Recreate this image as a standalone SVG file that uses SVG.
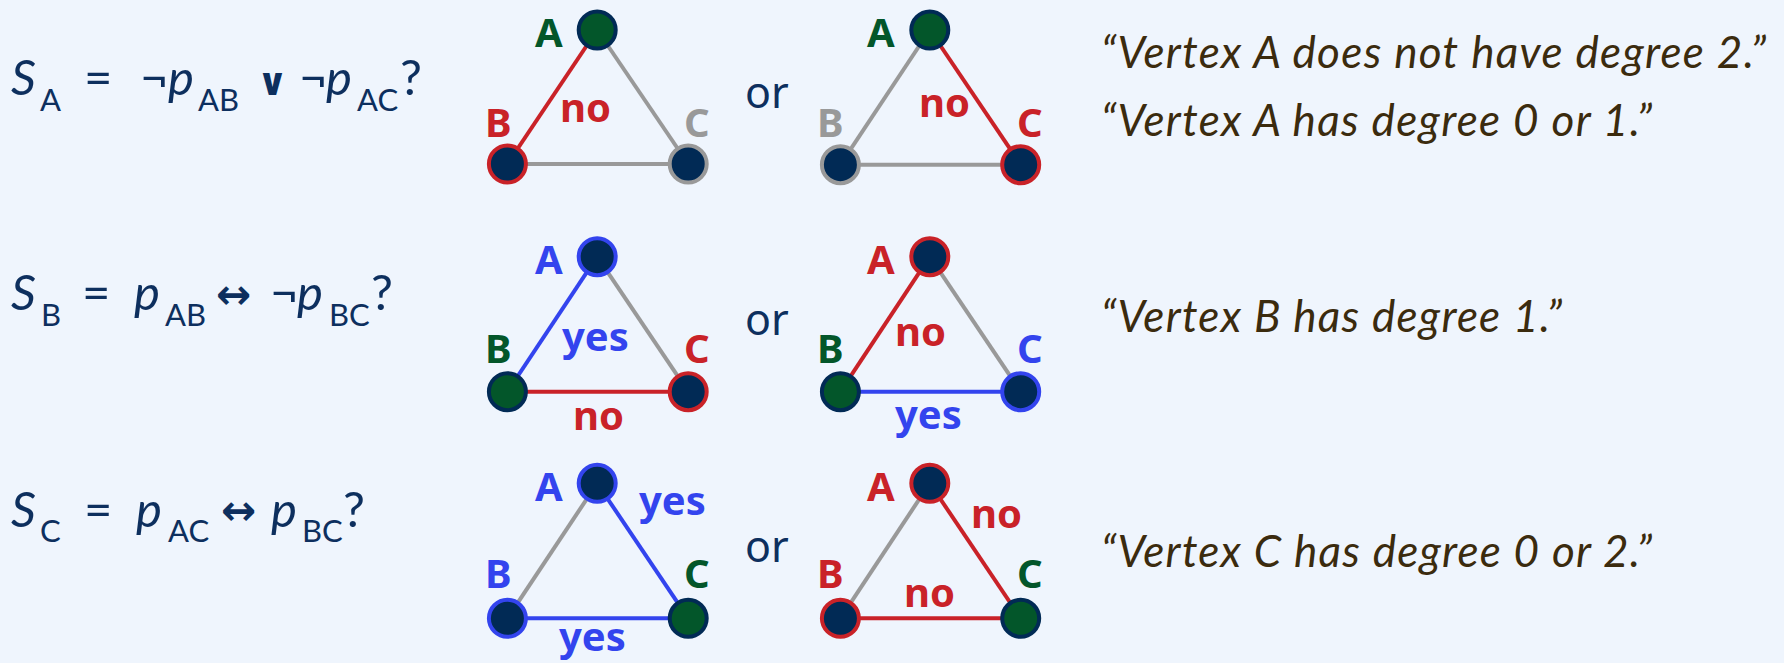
<svg xmlns="http://www.w3.org/2000/svg" width="1784" height="663" viewBox="0 0 1784 663">
<style>
.eq{font-family:Lato,"Noto Sans",sans-serif;fill:#0d2f5e}
.it{font-style:italic}
.big{font-size:49px}
.sub{font-size:31px}
.sym{font-family:"DejaVu Sans",sans-serif;fill:#0d2f5e}
.lbl{font-family:"Noto Sans",sans-serif;font-weight:bold;font-size:40px}
.or{font-family:"Noto Sans",sans-serif;font-size:43px;fill:#0d2f5e}
.q{font-family:Lato,"Noto Sans",sans-serif;font-style:italic;font-size:44px;fill:#3b2b0e}
.e{stroke-width:4;fill:none}
.n{stroke-width:4}
.g{fill:#03562a}.r{fill:#c92228}.b{fill:#3344ee}.y{fill:#999999}
.sg{stroke:#999999}.sr{stroke:#c92228}.sb{stroke:#3344ee}.sn{stroke:#012a55}
.fn{fill:#012a55}.fg{fill:#03562a}
</style>
<rect x="0" y="0" width="1784" height="663" fill="#eff5fd"/>

<!-- Equations -->
<g id="eqA">
<text class="eq it big" x="11" y="95">S</text>
<text class="eq sub" x="40" y="110.7">A</text>
<text class="eq big" x="84" y="95">=</text>
<text class="eq big" x="140" y="95">¬</text>
<text class="eq it big" x="168" y="95">p</text>
<text class="eq sub" x="198" y="110.7">AB</text>
<text class="sym" x="257" y="95" font-size="38" font-weight="bold">∨</text>
<text class="eq big" x="299" y="95">¬</text>
<text class="eq it big" x="326" y="95">p</text>
<text class="eq sub" x="357" y="110.7">AC</text>
<text class="eq big" x="400" y="95">?</text>
</g>
<g id="eqB">
<text class="eq it big" x="11" y="310">S</text>
<text class="eq sub" x="41" y="325.7">B</text>
<text class="eq big" x="82" y="310">=</text>
<text class="eq it big" x="134" y="310">p</text>
<text class="eq sub" x="165" y="325.7">AB</text>
<text class="sym" x="216" y="309" font-size="42" font-weight="bold">↔</text>
<text class="eq big" x="270" y="310">¬</text>
<text class="eq it big" x="297" y="310">p</text>
<text class="eq sub" x="329" y="325.7">BC</text>
<text class="eq big" x="371" y="310">?</text>
</g>
<g id="eqC">
<text class="eq it big" x="11" y="526.7">S</text>
<text class="eq sub" x="40" y="541.7">C</text>
<text class="eq big" x="84" y="526.7">=</text>
<text class="eq it big" x="136" y="526.7">p</text>
<text class="eq sub" x="168" y="541.7">AC</text>
<text class="sym" x="221" y="525" font-size="42" font-weight="bold">↔</text>
<text class="eq it big" x="271" y="526.7">p</text>
<text class="eq sub" x="302" y="541.7">BC</text>
<text class="eq big" x="343" y="526.7">?</text>
</g>

<!-- Connectors -->
<g id="edges">
<line class="e sr" x1="597.2" y1="30" x2="507.4" y2="164"/>
<line class="e sg" x1="597.2" y1="30" x2="688.2" y2="164"/>
<line class="e sg" x1="507.4" y1="164" x2="688.2" y2="164"/>
<line class="e sg" x1="929.8" y1="30" x2="840.4" y2="164.7"/>
<line class="e sr" x1="929.8" y1="30" x2="1020.7" y2="164.7"/>
<line class="e sg" x1="840.4" y1="164.7" x2="1020.7" y2="164.7"/>

<line class="e sb" x1="597.2" y1="256.7" x2="507.4" y2="391.7"/>
<line class="e sg" x1="597.2" y1="256.7" x2="688.2" y2="391.7"/>
<line class="e sr" x1="507.4" y1="391.7" x2="688.2" y2="391.7"/>
<line class="e sr" x1="929.8" y1="256.7" x2="840.4" y2="391.7"/>
<line class="e sg" x1="929.8" y1="256.7" x2="1020.7" y2="391.7"/>
<line class="e sb" x1="840.4" y1="391.7" x2="1020.7" y2="391.7"/>

<line class="e sg" x1="597.2" y1="483.3" x2="507.4" y2="618.3"/>
<line class="e sb" x1="597.2" y1="483.3" x2="688.2" y2="618.3"/>
<line class="e sb" x1="507.4" y1="618.3" x2="688.2" y2="618.3"/>
<line class="e sg" x1="929.8" y1="483.3" x2="840.4" y2="618.3"/>
<line class="e sr" x1="929.8" y1="483.3" x2="1020.7" y2="618.3"/>
<line class="e sr" x1="840.4" y1="618.3" x2="1020.7" y2="618.3"/>
</g>

<!-- Row 1 -->
<g id="r1t1">
<circle class="n fg sn" cx="597.2" cy="30" r="18.5"/>
<circle class="n fn sr" cx="507.4" cy="164" r="18.5"/>
<circle class="n fn sg" cx="688.2" cy="164" r="18.5"/>
<text class="lbl g" x="535" y="46.7">A</text>
<text class="lbl r" x="485" y="136.7">B</text>
<text class="lbl y" x="684" y="136.7">C</text>
<text class="lbl r" x="560" y="121.7">no</text>
</g>
<text id="or1" class="or" x="745" y="108">or</text>
<g id="r1t2">
<circle class="n fg sn" cx="929.8" cy="30" r="18.5"/>
<circle class="n fn sg" cx="840.4" cy="164.7" r="18.5"/>
<circle class="n fn sr" cx="1020.7" cy="164.7" r="18.5"/>
<text class="lbl g" x="867" y="46.7">A</text>
<text class="lbl y" x="817" y="136.7">B</text>
<text class="lbl r" x="1017" y="136.7">C</text>
<text class="lbl r" x="919" y="116.7">no</text>
</g>

<!-- Row 2 -->
<g id="r2t1">
<circle class="n fn sb" cx="597.2" cy="256.7" r="18.5"/>
<circle class="n fg sn" cx="507.4" cy="391.7" r="18.5"/>
<circle class="n fn sr" cx="688.2" cy="391.7" r="18.5"/>
<text class="lbl b" x="535" y="274">A</text>
<text class="lbl g" x="485" y="363.3">B</text>
<text class="lbl r" x="684" y="363.3">C</text>
<text class="lbl b" x="562" y="351">yes</text>
<text class="lbl r" x="573" y="430">no</text>
</g>
<text id="or2" class="or" x="745" y="335">or</text>
<g id="r2t2">
<circle class="n fn sr" cx="929.8" cy="256.7" r="18.5"/>
<circle class="n fg sn" cx="840.4" cy="391.7" r="18.5"/>
<circle class="n fn sb" cx="1020.7" cy="391.7" r="18.5"/>
<text class="lbl r" x="867" y="274">A</text>
<text class="lbl g" x="817" y="363.3">B</text>
<text class="lbl b" x="1017" y="363.3">C</text>
<text class="lbl r" x="895" y="345.7">no</text>
<text class="lbl b" x="895" y="429">yes</text>
</g>

<!-- Row 3 -->
<g id="r3t1">
<circle class="n fn sb" cx="597.2" cy="483.3" r="18.5"/>
<circle class="n fn sb" cx="507.4" cy="618.3" r="18.5"/>
<circle class="n fg sn" cx="688.2" cy="618.3" r="18.5"/>
<text class="lbl b" x="535" y="500.7">A</text>
<text class="lbl b" x="485" y="588.3">B</text>
<text class="lbl g" x="684" y="588.3">C</text>
<text class="lbl b" x="639" y="515">yes</text>
<text class="lbl b" x="559" y="651">yes</text>
</g>
<text id="or3" class="or" x="745" y="561.7">or</text>
<g id="r3t2">
<circle class="n fn sr" cx="929.8" cy="483.3" r="18.5"/>
<circle class="n fn sr" cx="840.4" cy="618.3" r="18.5"/>
<circle class="n fg sn" cx="1020.7" cy="618.3" r="18.5"/>
<text class="lbl r" x="867" y="500.7">A</text>
<text class="lbl r" x="817" y="588.3">B</text>
<text class="lbl g" x="1017" y="588.3">C</text>
<text class="lbl r" x="971" y="528.3">no</text>
<text class="lbl r" x="904" y="606.7">no</text>
</g>

<!-- Quotes -->
<g id="quotes">
<text class="q" x="1101" y="68.3" textLength="665">“Vertex A does not have degree 2.”</text>
<text class="q" x="1101" y="136" textLength="551">“Vertex A has degree 0 or 1.”</text>
<text class="q" x="1101" y="332.3" textLength="461">“Vertex B has degree 1.”</text>
<text class="q" x="1101" y="566.7" textLength="551">“Vertex C has degree 0 or 2.”</text>
</g>
</svg>
